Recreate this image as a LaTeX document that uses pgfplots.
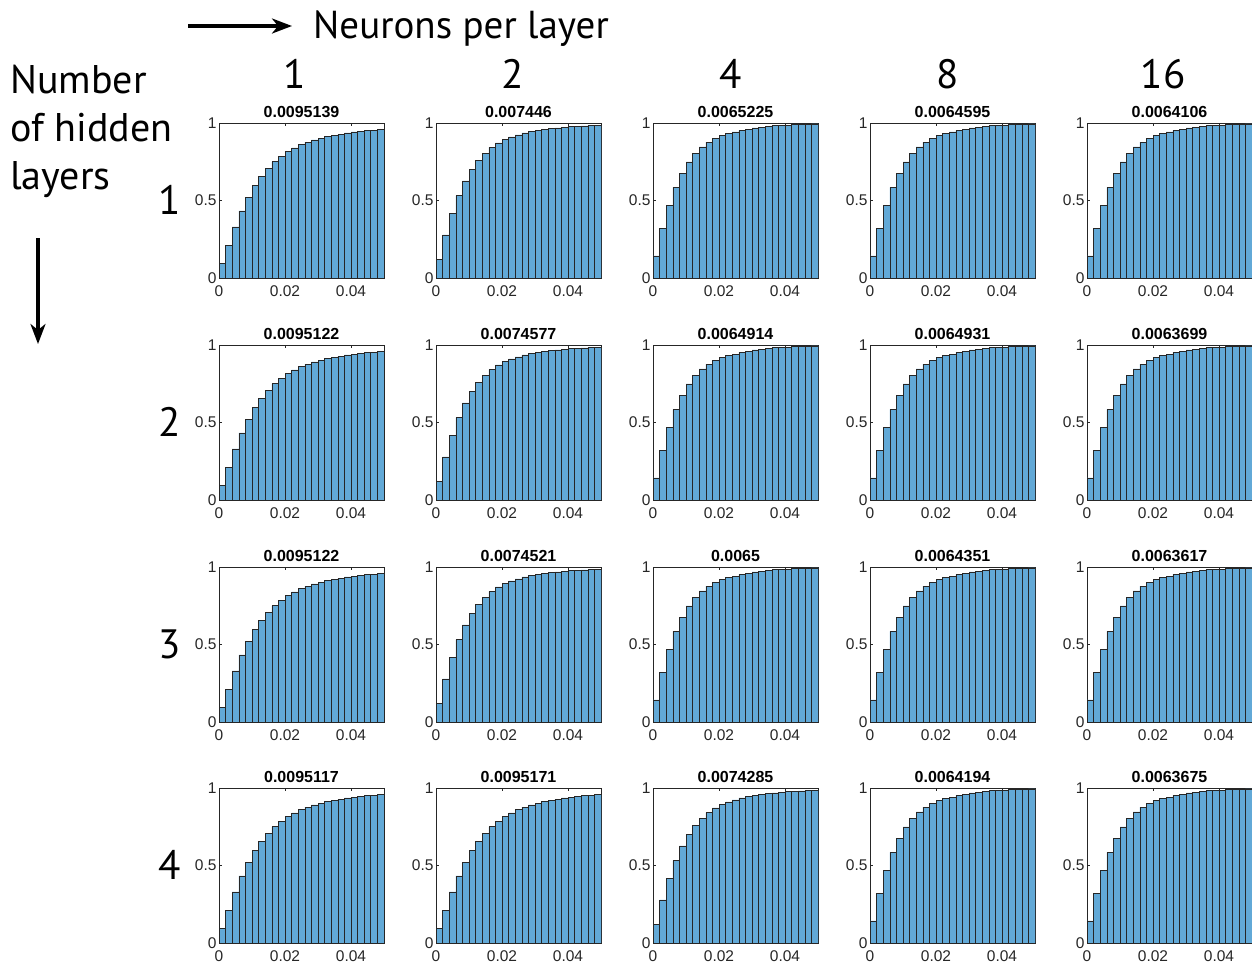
\documentclass[border=0pt]{standalone}
\usepackage{pgfplots}
\pgfplotsset{compat=1.18}
\usepackage{pgfplotstable}
\usepackage{fontspec}
\setmainfont{Liberation Sans}
\newfontfamily\headfont{PT Sans}
\usetikzlibrary{arrows.meta}
\definecolor{barblue}{RGB}{98,169,215}
\definecolor{axgray}{RGB}{38,38,38}

% cumulative fractions, bins of width 0.002 (last row repeats for ybar interval)
\pgfplotstableread{
x y
0.000 0.092
0.002 0.210
0.004 0.330
0.006 0.433
0.008 0.522
0.010 0.600
0.012 0.657
0.014 0.707
0.016 0.750
0.018 0.786
0.020 0.816
0.022 0.839
0.024 0.861
0.026 0.876
0.028 0.891
0.030 0.901
0.032 0.912
0.034 0.921
0.036 0.929
0.038 0.936
0.040 0.942
0.042 0.946
0.044 0.951
0.046 0.953
0.048 0.957
0.050 0.957
}\tabA
\pgfplotstableread{
x y
0.000 0.122
0.002 0.278
0.004 0.418
0.006 0.531
0.008 0.627
0.010 0.700
0.012 0.758
0.014 0.805
0.016 0.842
0.018 0.872
0.020 0.893
0.022 0.910
0.024 0.923
0.026 0.936
0.028 0.944
0.030 0.953
0.032 0.959
0.034 0.964
0.036 0.968
0.038 0.972
0.040 0.976
0.042 0.979
0.044 0.981
0.046 0.983
0.048 0.985
0.050 0.985
}\tabB
\pgfplotstableread{
x y
0.000 0.143
0.002 0.321
0.004 0.469
0.006 0.585
0.008 0.677
0.010 0.749
0.012 0.805
0.014 0.846
0.016 0.876
0.018 0.899
0.020 0.919
0.022 0.931
0.024 0.942
0.026 0.953
0.028 0.961
0.030 0.968
0.032 0.974
0.034 0.979
0.036 0.983
0.038 0.985
0.040 0.987
0.042 0.989
0.044 0.991
0.046 0.992
0.048 0.994
0.050 0.994
}\tabC

\pgfplotsset{panel/.style={
  scale only axis, width=165pt, height=155pt, anchor=south west,
  xmin=0, xmax=0.05, ymin=0, ymax=1,
  scaled x ticks=false, scaled y ticks=false,
  xtick={0,0.02,0.04}, ytick={0,0.5,1},
  xticklabels={0,0.02,0.04}, yticklabels={0,0.5,1},
  major tick length=3pt, tick align=inside,
  axis line style={axgray, line width=0.5pt},
  every tick/.style={axgray, line width=0.5pt},
  tick label style={font=\fontsize{15.5}{15.5}\selectfont, text=axgray},
  xticklabel style={yshift=-4pt},
  yticklabel style={xshift=1pt},
  title style={font=\bfseries\fontsize{16}{16}\selectfont, at={(0.5,1)}, anchor=south, yshift=-4pt},
}}
\newcommand{\panel}[4]{%
  \begin{axis}[panel, at={(#1pt,-#2pt)}, title={#4}]
    \addplot[ybar interval, fill=barblue, draw=black!85, line width=0.6pt] table[x=x,y=y] {#3};
  \end{axis}}

\begin{document}
\begin{tikzpicture}
\useasboundingbox (0,0) rectangle (1252pt,-967pt);
% row 1
\panel{219}{278}{\tabA}{0.0095139}
\panel{436}{278}{\tabB}{0.007446}
\panel{653}{278}{\tabC}{0.0065225}
\panel{870}{278}{\tabC}{0.0064595}
\panel{1087}{278}{\tabC}{0.0064106}
% row 2
\panel{219}{500}{\tabA}{0.0095122}
\panel{436}{500}{\tabB}{0.0074577}
\panel{653}{500}{\tabC}{0.0064914}
\panel{870}{500}{\tabC}{0.0064931}
\panel{1087}{500}{\tabC}{0.0063699}
% row 3
\panel{219}{722}{\tabA}{0.0095122}
\panel{436}{722}{\tabB}{0.0074521}
\panel{653}{722}{\tabC}{0.0065}
\panel{870}{722}{\tabC}{0.0064351}
\panel{1087}{722}{\tabC}{0.0063617}
% row 4
\panel{219}{943}{\tabA}{0.0095117}
\panel{436}{943}{\tabA}{0.0095171}
\panel{653}{943}{\tabB}{0.0074285}
\panel{870}{943}{\tabC}{0.0064194}
\panel{1087}{943}{\tabC}{0.0063675}

% headers
\draw[line width=3.2pt, -{Stealth[length=20pt,width=15pt,inset=6pt]}] (188pt,-26pt) -- (292pt,-26pt);
\node[anchor=base west, font=\headfont\fontsize{39}{39}\selectfont, inner sep=0pt] at (313pt,-38pt) {Neurons per layer};
\foreach \xx/\lab in {295/1, 513/2, 731/4, 948/8, 1163/16}
  \node[anchor=base, font=\headfont\fontsize{41}{41}\selectfont, inner sep=0pt] at (\xx pt,-88pt) {\lab};
\node[anchor=base west, font=\headfont\fontsize{40}{40}\selectfont, inner sep=0pt] at (10pt,-93pt) {Number};
\node[anchor=base west, font=\headfont\fontsize{40}{40}\selectfont, inner sep=0pt] at (10pt,-141pt) {of hidden};
\node[anchor=base west, font=\headfont\fontsize{40}{40}\selectfont, inner sep=0pt] at (10pt,-189pt) {layers};
\draw[line width=3.2pt, -{Stealth[length=20pt,width=15pt,inset=6pt]}] (38pt,-238pt) -- (38pt,-344pt);
\foreach \yy/\lab in {200/1, 422/2, 644/3, 865/4}
  \node[anchor=center, font=\headfont\fontsize{41}{41}\selectfont, inner sep=0pt] at (170pt,-\yy pt) {\lab};
\end{tikzpicture}
\end{document}
